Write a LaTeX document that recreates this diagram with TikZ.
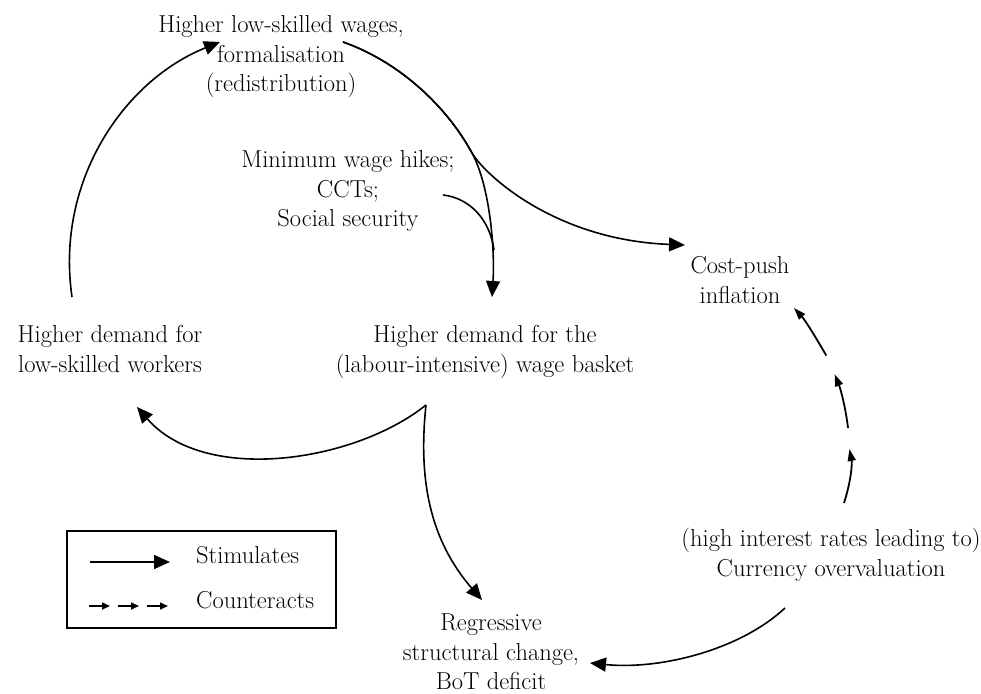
\documentclass[tikz,border=0pt]{standalone}
\usetikzlibrary{arrows.meta}
\begin{document}
\begin{tikzpicture}[x=1pt,y=-1pt,
  lbl/.style={align=center,inner sep=0pt,font=\fontsize{24.5}{29.5}\selectfont},
  stim/.style={line width=1.6pt,-{Triangle[length=16pt,width=14pt]}},
  cntr/.style={line width=1.8pt,-{Triangle[length=12pt,width=8pt]}},
  cntrsmall/.style={line width=1.6pt,-{Triangle[length=8pt,width=7pt]}}]
\useasboundingbox (0,0) rectangle (981,693);

% nodes
\node[lbl] (top) at (281,57) {Higher low-skilled wages,\\formalisation\\(redistribution)};
\node[lbl] (policy) at (348,191) {Minimum wage hikes;\\CCTs;\\Social security};
\node[lbl] (cost) at (740,280) {Cost-push\\inflation};
\node[lbl] (workers) at (110,349) {Higher demand for\\low-skilled workers};
\node[lbl] (basket) at (485,352) {Higher demand for the\\(labour-intensive) wage basket};
\node[lbl] (currency) at (831,555) {(high interest rates leading to)\\Currency overvaluation};
\node[lbl] (regress) at (491,652) {Regressive\\structural change,\\BoT deficit};

% connector end points
\coordinate (topout) at (343,42);
\coordinate (split) at (472,153);
\coordinate (costin) at (685,245);
\coordinate (basketin) at (492,297);
\coordinate (policyout) at (443,195);
\coordinate (merge) at (494,250);
\coordinate (workersout) at (72,297);
\coordinate (topin) at (220,42);
\coordinate (basketout) at (426,405);
\coordinate (workersin) at (137,407);
\coordinate (regressin) at (482,600);
\coordinate (currout) at (785,608);
\coordinate (regressin2) at (590,663);
\coordinate (currup) at (844,503);
\coordinate (costbelow) at (794,308);

% stimulating connectors
\draw[stim] (topout) .. controls (400,62) and (447,107) .. (split)
  .. controls (485,175) and (555,240) .. (costin);
\draw[stim] (topout) .. controls (400,62) and (447,107) .. (split)
  .. controls (490,186) and (495,250) .. (basketin);
\draw[line width=1.6pt] (policyout) .. controls (470,198) and (490,220) .. (merge);
\draw[stim] (workersout) .. controls (55,180) and (125,80) .. (topin);
\draw[stim] (basketout) .. controls (355,462) and (205,485) .. (workersin);
\draw[stim] (basketout) .. controls (418,480) and (430,540) .. (regressin);
\draw[stim] (currout) .. controls (740,650) and (660,670) .. (regressin2);

% counteracting connector (dashed arrows along an arc)
\path (currup) .. controls (860,430) and (840,360) .. (costbelow)
  coordinate[pos=0.25] (c1) coordinate[pos=0.35] (c2)
  coordinate[pos=0.62] (c3) coordinate[pos=0.72] (c4);
\draw[cntr] (currup) .. controls (852,478) and (852,462) .. (c1);
\draw[cntr] (c2) .. controls (846,410) and (841,390) .. (c3);
\draw[cntr] (c4) .. controls (815,336) and (805,320) .. (costbelow);

% legend
\node[draw,line width=2pt,minimum width=269pt,minimum height=97pt,inner sep=0pt] (legend) at (201.5,579.5) {};
\coordinate (l1a) at (90,562);
\coordinate (l1b) at (170,562);
\draw[stim] (l1a) -- (l1b);
\node[lbl,anchor=west] (lstim) at (196,555) {Stimulates};
\coordinate (l2a) at (89,606);
\coordinate (l2b) at (110,606);
\coordinate (l2c) at (118,606);
\coordinate (l2d) at (139,606);
\coordinate (l2e) at (147,606);
\coordinate (l2f) at (168,606);
\draw[cntrsmall] (l2a) -- (l2b);
\draw[cntrsmall] (l2c) -- (l2d);
\draw[cntrsmall] (l2e) -- (l2f);
\node[lbl,anchor=west] (lcntr) at (196,600) {Counteracts};
\end{tikzpicture}
\end{document}
